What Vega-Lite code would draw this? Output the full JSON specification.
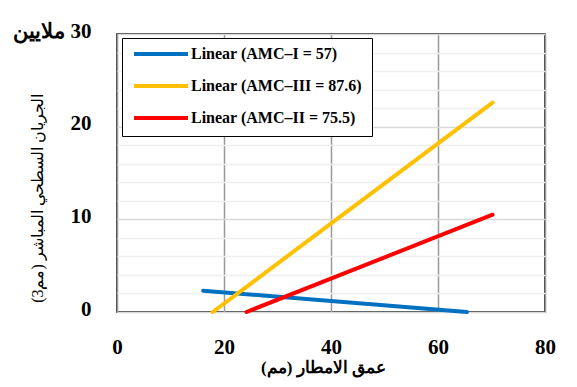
{
  "$schema": "https://vega.github.io/schema/vega-lite/v6.json",
  "width": 428,
  "height": 278,
  "autosize": {"type": "none"},
  "padding": {"left": 117, "top": 34, "right": 32, "bottom": 75},
  "background": "white",
  "config": {
    "view": {"stroke": "black", "strokeWidth": 1.5},
    "font": "Liberation Serif",
    "legend": {"labelFont": "Liberation Serif", "labelFontWeight": "bold"}
  },
  "data": {
    "values": [
      {"series": "Linear (AMC–I = 57)", "rain": 16.1, "q": 2.3},
      {"series": "Linear (AMC–I = 57)", "rain": 65.4, "q": 0},
      {"series": "Linear (AMC–III = 87.6)", "rain": 17.9, "q": 0},
      {"series": "Linear (AMC–III = 87.6)", "rain": 70.2, "q": 22.6},
      {"series": "Linear (AMC–II = 75.5)", "rain": 24.2, "q": 0},
      {"series": "Linear (AMC–II = 75.5)", "rain": 70.2, "q": 10.5}
    ]
  },
  "mark": {"type": "line", "strokeWidth": 4, "strokeCap": "round"},
  "encoding": {
    "x": {
      "field": "rain",
      "type": "quantitative",
      "scale": {"domain": [0, 80], "nice": false},
      "axis": {
        "values": [0, 20, 40, 60, 80],
        "grid": true,
        "gridColor": "#999999",
        "gridWidth": 1.5,
        "ticks": false,
        "domain": false,
        "labelFont": "Liberation Serif",
        "labelFontSize": 21,
        "labelFontWeight": "bold",
        "labelColor": "black",
        "labelPadding": 24,
        "labelFlush": false,
        "title": "عمق الامطار (مم)",
        "titleFont": "Liberation Serif",
        "titleFontSize": 17,
        "titleFontWeight": "bold",
        "titleColor": "black",
        "titleX": 206,
        "titleY": 55,
        "titleBaseline": "middle"
      }
    },
    "y": {
      "field": "q",
      "type": "quantitative",
      "scale": {"domain": [0, 30], "nice": false},
      "axis": {
        "values": [0, 2, 4, 6, 8, 10, 12, 14, 16, 18, 20, 22, 24, 26, 28, 30],
        "grid": true,
        "gridColor": {"condition": {"test": "datum.value % 10 == 0", "value": "#d9d9d9"}, "value": "#efefef"},
        "gridWidth": 1.5,
        "ticks": false,
        "domain": false,
        "labelExpr": "datum.value == 30 ? 'ملايين\u200e 30' : (datum.value % 10 == 0 ? datum.label : '')",
        "labelOverlap": false,
        "labelFont": "Liberation Serif",
        "labelFontSize": 21,
        "labelFontWeight": "bold",
        "labelColor": "black",
        "labelPadding": 26,
        "labelOffset": -3,
        "labelFlush": false,
        "title": "الجريان السطحي المباشر (مم3)",
        "titleFont": "Liberation Serif",
        "titleFontSize": 16,
        "titleFontWeight": "normal",
        "titleColor": "black",
        "titleAngle": -90,
        "titleX": -80,
        "titleY": 164,
        "titleBaseline": "middle"
      }
    },
    "color": {
      "field": "series",
      "type": "nominal",
      "sort": null,
      "scale": {
        "domain": ["Linear (AMC–I = 57)", "Linear (AMC–III = 87.6)", "Linear (AMC–II = 75.5)"],
        "range": ["#0070C0", "#FFC000", "#FF0000"]
      },
      "legend": {
        "orient": "none",
        "legendX": 5,
        "legendY": 4,
        "title": null,
        "fillColor": "white",
        "strokeColor": "black",
        "padding": 10,
        "symbolType": "stroke",
        "symbolSize": 2916,
        "symbolStrokeWidth": 4,
        "clipHeight": 12,
        "rowPadding": 16,
        "labelFont": "Liberation Serif",
        "labelFontSize": 16,
        "labelFontWeight": "bold",
        "labelColor": "black",
        "labelOffset": 1,
        "labelLimit": 300
      }
    }
  }
}
